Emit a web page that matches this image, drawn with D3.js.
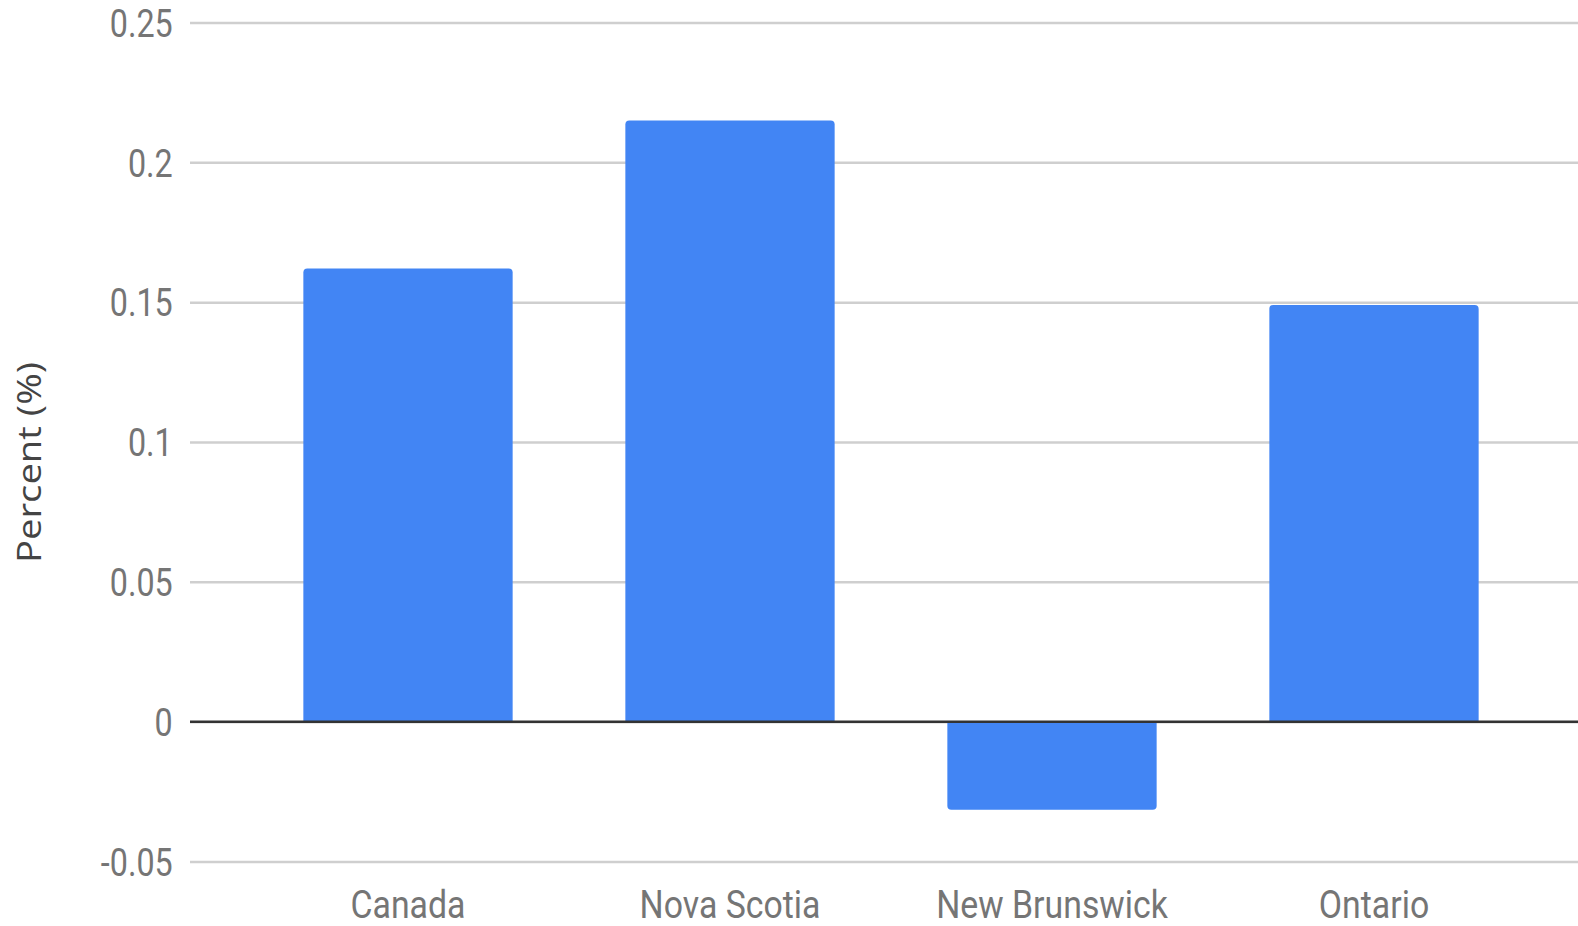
<!DOCTYPE html>
<html>
<head>
<meta charset="utf-8">
<script src="https://cdn.jsdelivr.net/npm/d3@7"></script>
<style>
  html, body { margin: 0; padding: 0; background: #fff; }
  svg { display: block; }
</style>
</head>
<body>
<svg id="chart" width="1578" height="926"></svg>
<script>
const categories = ["Canada", "Nova Scotia", "New Brunswick", "Ontario"];
const values = [0.162, 0.215, -0.0315, 0.149];
const yTicks = [-0.05, 0, 0.05, 0.1, 0.15, 0.2, 0.25];
const yTickLabels = ["-0.05", "0", "0.05", "0.1", "0.15", "0.2", "0.25"];
const yTitle = "Percent (%)";

const W = 1578, H = 926;
const plotLeft = 190, plotRight = 1578;
const svg = d3.select("#chart");

const y = d3.scaleLinear().domain([-0.05, 0.25]).range([861.5, 22.5]);
const x = d3.scaleBand().domain(categories).range([247, 1535])
  .paddingInner(0.35).paddingOuter(0.175);

const squeeze = 0.85;
const squeezeX = 0.89;

// gridlines + y labels
const yAxis = d3.axisLeft(y)
  .tickValues(yTicks)
  .tickFormat((d, i) => yTickLabels[i])
  .tickSize(-(plotRight - plotLeft))
  .tickPadding(0);
const gy = svg.append("g").attr("transform", `translate(${plotLeft},0)`).call(yAxis);
gy.select(".domain").remove();
gy.selectAll(".tick line").attr("stroke", "#cfcfcf").attr("stroke-width", 2.5);
gy.selectAll(".tick text")
  .attr("x", -17.3 / squeeze)
  .attr("dy", "0.36em")
  .attr("transform", `scale(${squeeze},1)`)
  .attr("fill", "#757575")
  .attr("font-family", "Roboto, sans-serif")
  .attr("font-size", 38);

// bars with rounded outer ends
const r = 4;
function barPath(d, i) {
  const x0 = x(categories[i]), w = x.bandwidth();
  const y0 = y(0), y1 = y(d);
  if (d >= 0) {
    return `M${x0},${y0} L${x0},${y1 + r} Q${x0},${y1} ${x0 + r},${y1} L${x0 + w - r},${y1} Q${x0 + w},${y1} ${x0 + w},${y1 + r} L${x0 + w},${y0} Z`;
  } else {
    return `M${x0},${y0} L${x0},${y1 - r} Q${x0},${y1} ${x0 + r},${y1} L${x0 + w - r},${y1} Q${x0 + w},${y1} ${x0 + w},${y1 - r} L${x0 + w},${y0} Z`;
  }
}
svg.append("g").selectAll("path").data(values).join("path")
  .attr("d", barPath)
  .attr("fill", "#4285F4");

// zero line
svg.append("line")
  .attr("x1", plotLeft).attr("x2", plotRight)
  .attr("y1", y(0)).attr("y2", y(0))
  .attr("stroke", "#333").attr("stroke-width", 2.5);

// x axis labels
const xAxis = d3.axisBottom(x).tickSize(0).tickPadding(0);
const gx = svg.append("g").attr("transform", `translate(0,${y(-0.05)})`).call(xAxis);
gx.select(".domain").remove();
gx.selectAll(".tick text")
  .attr("y", 57)
  .attr("dy", null)
  .attr("transform", `scale(${squeezeX},1)`)
  .attr("fill", "#757575")
  .attr("font-family", "Roboto, sans-serif")
  .attr("font-size", 38);

// y title
svg.append("text")
  .attr("transform", `translate(41,${(362 + 563) / 2}) rotate(-90)`)
  .attr("text-anchor", "middle")
  .attr("fill", "#444")
  .attr("font-family", "'Open Sans', sans-serif")
  .attr("font-weight", 500)
  .attr("font-size", 33)
  .attr("textLength", 201)
  .attr("lengthAdjust", "spacingAndGlyphs")
  .text(yTitle);
</script>
</body>
</html>
